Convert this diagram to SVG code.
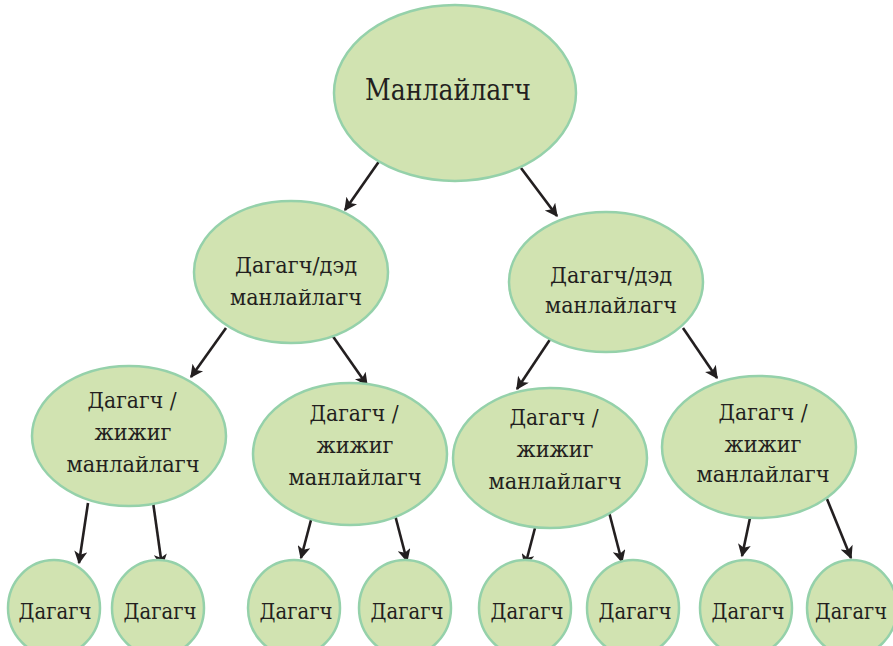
<svg xmlns="http://www.w3.org/2000/svg" width="893" height="646" viewBox="0 0 893 646">
<style>
.n{fill:#d1e3b1;stroke:#95d1aa;stroke-width:2.5}
.t{font-family:"DejaVu Serif","Liberation Serif",serif;fill:#231f20;text-anchor:middle}
.m{font-size:22.5px}
.e{stroke:#231f20;stroke-width:2.6;fill:none;marker-end:url(#a)}
</style>
<defs>
<marker id="a" viewBox="0 0 10 10" refX="9" refY="5" markerWidth="17" markerHeight="13" markerUnits="userSpaceOnUse" orient="auto"><path d="M0,0 L10,5 L0,10 L2.5,5 Z" fill="#231f20"/></marker>
</defs>
<rect width="893" height="646" fill="#fff"/>
<g id="connectors">
<line class="e" x1="380" y1="160" x2="345" y2="210"/>
<line class="e" x1="521" y1="168" x2="557" y2="216"/>
<line class="e" x1="226" y1="328" x2="191" y2="377"/>
<line class="e" x1="332" y1="335" x2="367" y2="385"/>
<line class="e" x1="551" y1="338" x2="517" y2="389"/>
<line class="e" x1="683" y1="328" x2="717" y2="378"/>
<line class="e" x1="88" y1="503" x2="79" y2="563"/>
<line class="e" x1="153" y1="502" x2="162" y2="566"/>
<line class="e" x1="311" y1="520" x2="301" y2="558"/>
<line class="e" x1="395" y1="515" x2="407" y2="561"/>
<line class="e" x1="535" y1="528" x2="525" y2="566"/>
<line class="e" x1="609" y1="512" x2="622" y2="562"/>
<line class="e" x1="750" y1="518" x2="742" y2="556"/>
<line class="e" x1="827" y1="499" x2="851" y2="558"/>
</g>
<g id="root"><ellipse class="n" cx="455" cy="93" rx="121" ry="88"/><text class="t" x="448" y="100" font-size="29" textLength="166" lengthAdjust="spacingAndGlyphs">Манлайлагч</text></g>
<g id="l2a"><ellipse class="n" cx="291" cy="272" rx="97" ry="71"/><text class="t m" x="296" y="273" textLength="122" lengthAdjust="spacingAndGlyphs">Дагагч/дэд</text><text class="t m" x="296" y="305" textLength="132" lengthAdjust="spacingAndGlyphs">манлайлагч</text></g>
<g id="l2b"><ellipse class="n" cx="606" cy="282" rx="97" ry="70"/><text class="t m" x="611" y="283" textLength="122" lengthAdjust="spacingAndGlyphs">Дагагч/дэд</text><text class="t m" x="611" y="313" textLength="132" lengthAdjust="spacingAndGlyphs">манлайлагч</text></g>
<g id="l3a"><ellipse class="n" cx="129" cy="436" rx="97" ry="70"/><text class="t m" x="132" y="408" textLength="89" lengthAdjust="spacingAndGlyphs">Дагагч /</text><text class="t m" x="133" y="440" textLength="77" lengthAdjust="spacingAndGlyphs">жижиг</text><text class="t m" x="133" y="472" textLength="133" lengthAdjust="spacingAndGlyphs">манлайлагч</text></g>
<g id="l3b"><ellipse class="n" cx="350" cy="454" rx="97" ry="71"/><text class="t m" x="354" y="421" textLength="89" lengthAdjust="spacingAndGlyphs">Дагагч /</text><text class="t m" x="355" y="453" textLength="77" lengthAdjust="spacingAndGlyphs">жижиг</text><text class="t m" x="355" y="485" textLength="133" lengthAdjust="spacingAndGlyphs">манлайлагч</text></g>
<g id="l3c"><ellipse class="n" cx="550" cy="458" rx="97" ry="70"/><text class="t m" x="554" y="425" textLength="89" lengthAdjust="spacingAndGlyphs">Дагагч /</text><text class="t m" x="555" y="457" textLength="77" lengthAdjust="spacingAndGlyphs">жижиг</text><text class="t m" x="555" y="489" textLength="133" lengthAdjust="spacingAndGlyphs">манлайлагч</text></g>
<g id="l3d"><ellipse class="n" cx="759" cy="447" rx="97" ry="71"/><text class="t m" x="763" y="420" textLength="89" lengthAdjust="spacingAndGlyphs">Дагагч /</text><text class="t m" x="763" y="452" textLength="77" lengthAdjust="spacingAndGlyphs">жижиг</text><text class="t m" x="763" y="482" textLength="133" lengthAdjust="spacingAndGlyphs">манлайлагч</text></g>
<g id="b1"><ellipse class="n" cx="54" cy="608" rx="46" ry="48"/><text class="t m" x="55" y="619" textLength="73" lengthAdjust="spacingAndGlyphs">Дагагч</text></g>
<g id="b2"><ellipse class="n" cx="158" cy="608" rx="46" ry="48"/><text class="t m" x="160" y="619" textLength="73" lengthAdjust="spacingAndGlyphs">Дагагч</text></g>
<g id="b3"><ellipse class="n" cx="294" cy="608" rx="46" ry="48"/><text class="t m" x="296" y="619" textLength="73" lengthAdjust="spacingAndGlyphs">Дагагч</text></g>
<g id="b4"><ellipse class="n" cx="405" cy="608" rx="46" ry="48"/><text class="t m" x="407" y="619" textLength="73" lengthAdjust="spacingAndGlyphs">Дагагч</text></g>
<g id="b5"><ellipse class="n" cx="525" cy="608" rx="46" ry="48"/><text class="t m" x="527" y="619" textLength="73" lengthAdjust="spacingAndGlyphs">Дагагч</text></g>
<g id="b6"><ellipse class="n" cx="633" cy="608" rx="46" ry="48"/><text class="t m" x="635" y="619" textLength="73" lengthAdjust="spacingAndGlyphs">Дагагч</text></g>
<g id="b7"><ellipse class="n" cx="746" cy="608" rx="46" ry="48"/><text class="t m" x="748" y="619" textLength="73" lengthAdjust="spacingAndGlyphs">Дагагч</text></g>
<g id="b8"><ellipse class="n" cx="852" cy="608" rx="45" ry="48"/><text class="t m" x="851" y="619" textLength="72" lengthAdjust="spacingAndGlyphs">Дагагч</text></g>
</svg>
